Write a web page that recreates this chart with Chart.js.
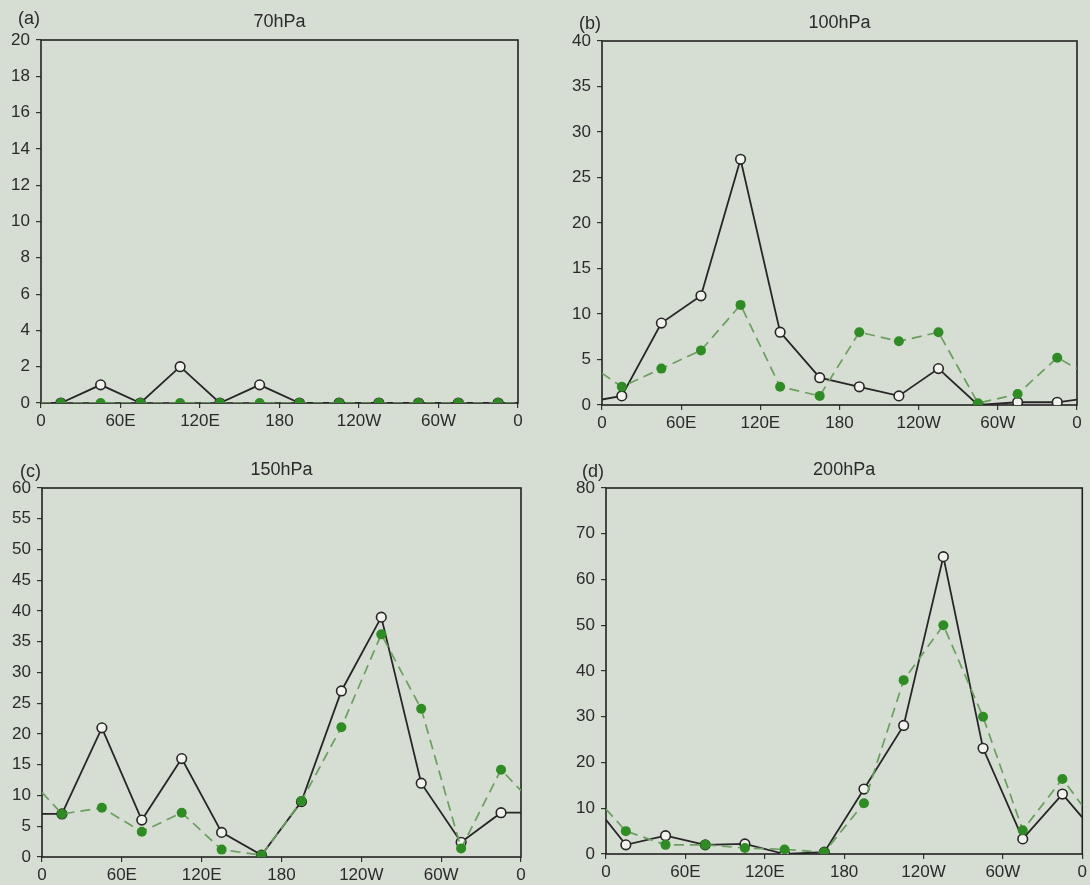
<!DOCTYPE html>
<html>
<head>
<meta charset="utf-8">
<script src="https://cdn.jsdelivr.net/npm/chart.js@4"></script>
<style>
  body { margin: 0; background: #d6ddd3; }
  #page { position: relative; width: 1090px; height: 885px; overflow: hidden; background: #d6ddd3; }
  canvas { position: absolute; }
  .tag { position: absolute; font-family: "Liberation Sans", Arial, sans-serif; font-size: 18px; line-height: 20px; color: #2b2b2b; }
</style>
</head>
<body>
<div id="page">
  <canvas id="c70" width="545" height="442" style="left:0;top:0"></canvas>
  <canvas id="c100" width="545" height="442" style="left:545px;top:0"></canvas>
  <canvas id="c150" width="545" height="443" style="left:0;top:442px"></canvas>
  <canvas id="c200" width="545" height="443" style="left:545px;top:442px"></canvas>
  <div class="tag" style="left:18px;top:8px">(a)</div>
  <div class="tag" style="left:579px;top:13px">(b)</div>
  <div class="tag" style="left:20px;top:461px">(c)</div>
  <div class="tag" style="left:582px;top:461px">(d)</div>
</div>
<script>
"use strict";

// LONGITUDES (0 AND 360 ARE THE LINE ENDS AT THE FRAME, NO MARKER)
var lons = [0, 15, 45, 75, 105, 135, 165, 195, 225, 255, 285, 315, 345, 360];
var lonLabels = ["0", "60E", "120E", "180", "120W", "60W", "0"];

// SOLID BLACK (OPEN CIRCLES) AND DASHED GREEN (DOTS), ONE PAIR PER LEVEL
var solid70   = [0, 0, 1, 0, 2, 0, 1, 0, 0, 0, 0, 0, 0, 0];
var dashed70  = [0, 0, 0, 0, 0, 0, 0, 0, 0, 0, 0, 0, 0, 0];
var solid100  = [0.6, 1, 9, 12, 27, 8, 3, 2, 1, 4, 0, 0.3, 0.3, 0.6];
var dashed100 = [3.5, 2, 4, 6, 11, 2, 1, 8, 7, 8, 0.2, 1.2, 5.2, 4];
var solid150  = [7, 7, 21, 6, 16, 4, 0.3, 9, 27, 39, 12, 2.4, 7.2, 7.2];
var dashed150 = [10.5, 7, 8, 4.1, 7.2, 1.2, 0.3, 9.1, 21.1, 36.2, 24.1, 1.4, 14.2, 10.8];
var solid200  = [7.5, 2, 4, 2, 2.2, 0, 0.4, 14.2, 28.1, 65, 23.1, 3.3, 13.1, 8];
var dashed200 = [9.8, 5, 2, 2, 1.3, 1, 0.4, 11.1, 38, 50, 30, 5.2, 16.4, 10.6];

var FONT = "'Liberation Sans', Arial, sans-serif";
var INK = "#2b2b2b";

var framePlugin = {
  id: "frame",
  beforeDatasetsDraw: function(chart) {
    var a = chart.chartArea;
    var c = chart.ctx;
    c.save();
    c.strokeStyle = "#222";
    c.lineWidth = 1.6;
    c.strokeRect(a.left, a.top, a.right - a.left, a.bottom - a.top);
    c.restore();
  }
};

function toPts(vals)
{
  var pts = [];
  for (var i = 0; i < lons.length; i++) {
    pts.push({ x: lons[i], y: vals[i] });
  }
  return pts;
}

function markerSize(r)
{
  return function(ctx) {
    var i = ctx.dataIndex;
    return (i === 0 || i === lons.length - 1) ? 0 : r;
  };
}

function makePanel(id, title, solid, dashed, yMax, yStep, box)
{
  var ctx = document.getElementById(id).getContext("2d");
  return new Chart(ctx, {
    type: "line",
    data: {
      datasets: [{
        data: toPts(dashed),
        order: 0,
        borderColor: "#6c9e60",
        borderWidth: 1.7,
        borderDash: [10, 6],
        pointRadius: markerSize(5),
        pointBackgroundColor: "#2f8c25",
        pointBorderWidth: 0,
        tension: 0,
        clip: 0
      }, {
        data: toPts(solid),
        order: 1,
        borderColor: "#262626",
        borderWidth: 1.8,
        pointRadius: markerSize(4.8),
        pointBackgroundColor: "#f2f3ee",
        pointBorderColor: "#262626",
        pointBorderWidth: 1.6,
        tension: 0,
        clip: 0
      }]
    },
    options: {
      responsive: false,
      animation: false,
      layout: { padding: { left: 0, right: box.padRight, top: 0, bottom: 0 } },
      plugins: {
        legend: { display: false },
        tooltip: { enabled: false },
        title: {
          display: true,
          text: title,
          fullSize: false,
          color: INK,
          font: { family: FONT, size: 18, weight: "normal", lineHeight: 1.2 },
          padding: { top: box.titleTop, bottom: box.titleBottom }
        }
      },
      scales: {
        x: {
          type: "linear",
          min: 0,
          max: 360,
          afterFit: function(s) { s.height = box.xHeight; },
          ticks: {
            stepSize: 60,
            autoSkip: false,
            maxRotation: 0,
            padding: 3,
            color: INK,
            font: { family: FONT, size: 17 },
            callback: function(v) { return lonLabels[Math.round(v / 60)]; }
          },
          grid: { drawOnChartArea: false, tickLength: 5, color: "#333", lineWidth: 1.2 },
          border: { display: false }
        },
        y: {
          min: 0,
          max: yMax,
          afterFit: function(s) { s.width = box.yWidth; },
          ticks: {
            stepSize: yStep,
            padding: 6,
            color: INK,
            font: { family: FONT, size: 17 }
          },
          grid: { drawOnChartArea: false, tickLength: 5, color: "#333", lineWidth: 1.2 },
          border: { display: false }
        }
      }
    },
    plugins: [framePlugin]
  });
}

// TITLE BLOCK = 18 * 1.2 + TOP + BOTTOM PADDING, SETS THE TOP OF THE PLOT
makePanel("c70", "70hPa", solid70, dashed70, 20, 2,
  { yWidth: 41, padRight: 27, xHeight: 39, titleTop: 11, titleBottom: 7.4 });
makePanel("c100", "100hPa", solid100, dashed100, 40, 5,
  { yWidth: 57, padRight: 13, xHeight: 37, titleTop: 12, titleBottom: 7.4 });
makePanel("c150", "150hPa", solid150, dashed150, 60, 5,
  { yWidth: 42, padRight: 24, xHeight: 28, titleTop: 17, titleBottom: 7.4 });
makePanel("c200", "200hPa", solid200, dashed200, 80, 10,
  { yWidth: 61, padRight: 5, xHeight: 31, titleTop: 17, titleBottom: 7.4 });
</script>
</body>
</html>
